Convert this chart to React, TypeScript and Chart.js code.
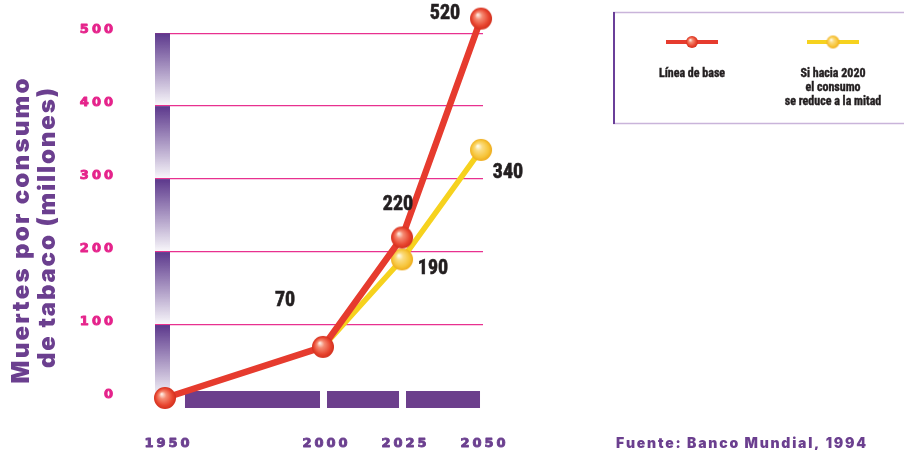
import React, { useEffect, useRef } from 'react';
import { Chart, registerables } from 'chart.js';

Chart.register(...registerables);

// ---------- data ----------
const years = [1950, 2000, 2025, 2050];
const baselineValues = [0, 70, 220, 520];
const halfYears = [2000, 2025, 2050];
const halfValues = [70, 190, 340];
const yTickValues = [0, 100, 200, 300, 400, 500];
const seriesNames = ['Línea de base', 'Si hacia 2020 el consumo se reduce a la mitad'];
const legendTexts = [['Línea de base'], ['Si hacia 2020', 'el consumo', 'se reduce a la mitad']];
const yTitleLines = ['Muertes por consumo', 'de tabaco (millones)'];
const sourceText = 'Fuente: Banco Mundial, 1994';

// ---------- styles ----------
const RED = '#e63b2e';
const YELLOW = '#f6d21e';
const PURPLE = '#6b3f8f';
const PINK = '#e8318f';
const TICK_PINK = '#e5238b';
const CONDENSED = "'Roboto Condensed', 'DejaVu Sans Condensed', sans-serif";
const WIDE = "'DejaVu Sans', sans-serif";
const HEAVY = "Inter, 'Liberation Sans', sans-serif";
const baseLabelOffsets: (number[] | null)[] = [null, [-38, -46], [-4, -32], [-36, -5]];
const halfLabelOffsets: (number[] | null)[] = [null, [31, 10], [27, 23]];

function sphere(r: number, stops: [number, string][]) {
  const c = document.createElement('canvas');
  const s = Math.ceil(r * 2 + 2);
  c.width = s;
  c.height = s;
  const g = c.getContext('2d')!;
  const cx = s / 2;
  const grad = g.createRadialGradient(cx - r * 0.3, cx - r * 0.35, r * 0.05, cx, cx, r);
  stops.forEach(([o, col]) => grad.addColorStop(o, col));
  g.fillStyle = grad;
  g.beginPath();
  g.arc(cx, cx, r, 0, Math.PI * 2);
  g.fill();
  return c;
}
const redStops: [number, string][] = [[0, '#fde8de'], [0.3, '#f58a72'], [0.75, '#e8452f'], [1, '#d2301e']];
const yellowStops: [number, string][] = [[0, '#fffbe8'], [0.3, '#fbdc80'], [0.75, '#f7c53a'], [1, '#eeab1c']];

// draws text char by char; spacing fixed, or fitted to a target length when fit > 0
function drawSpaced(
  ctx: CanvasRenderingContext2D, text: string, x: number, y: number,
  spacing: number, align: 'left' | 'center' | 'right', stroke = 0, fit = 0,
) {
  const chars = Array.from(text);
  const widths = chars.map((c) => ctx.measureText(c).width);
  const sum = widths.reduce((a, b) => a + b, 0);
  const sp = fit > 0 ? (fit - sum) / (chars.length - 1) : spacing;
  const total = sum + sp * (chars.length - 1);
  let cx = align === 'left' ? x : align === 'center' ? x - total / 2 : x - total;
  ctx.textAlign = 'left';
  if (stroke > 0) {
    ctx.lineWidth = stroke;
    ctx.lineJoin = 'round';
    ctx.strokeStyle = ctx.fillStyle as string;
  }
  chars.forEach((c, i) => {
    ctx.fillText(c, cx, y);
    if (stroke > 0) ctx.strokeText(c, cx, y);
    cx += widths[i] + sp;
  });
}

export default function App() {
  const ref = useRef<HTMLCanvasElement>(null);
  useEffect(() => {
    document.body.style.margin = '0';
    const canvas = ref.current!;
    const redBall = sphere(11, redStops);
    const yellowBall = sphere(11, yellowStops);
    const redSmall = sphere(6, redStops);
    const yellowSmall = sphere(6.5, yellowStops);

    const decor = {
      id: 'decor',
      beforeDatasetsDraw(chart: any) {
        const ctx: CanvasRenderingContext2D = chart.ctx;
        const { chartArea } = chart;
        const ys = chart.scales.y;
        const xs = chart.scales.x;
        ctx.save();
        for (let i = 0; i < yTickValues.length - 1; i++) {
          const top = ys.getPixelForValue(yTickValues[i + 1]);
          const bot = ys.getPixelForValue(yTickValues[i]);
          const g = ctx.createLinearGradient(0, top, 0, bot);
          g.addColorStop(0, 'rgba(92,56,140,1)');
          g.addColorStop(1, 'rgba(92,56,140,0.03)');
          ctx.fillStyle = g;
          ctx.fillRect(chartArea.left, top, 15, bot - top - 1);
        }
        const y0 = ys.getPixelForValue(0);
        ctx.fillStyle = '#6c3f8c';
        for (let i = 0; i < years.length - 1; i++) {
          const a = xs.getPixelForValue(years[i]) + (i === 0 ? 20 : 4);
          const b = xs.getPixelForValue(years[i + 1]) - (i === years.length - 2 ? 1 : 3);
          ctx.fillRect(a, y0 - 7, b - a, 17);
        }
        ctx.font = `bold 13px ${WIDE}`;
        ctx.textBaseline = 'alphabetic';
        ctx.fillStyle = TICK_PINK;
        ys.ticks.forEach((t: any) => {
          drawSpaced(ctx, String(t.value), 113, ys.getPixelForValue(t.value), 3, 'right', 0.9);
        });
        ctx.fillStyle = PURPLE;
        xs.ticks.forEach((t: any) => {
          drawSpaced(ctx, String(t.value), xs.getPixelForValue(t.value) + 2, 447, 3, 'center', 0.9);
        });
        ctx.restore();
      },
      afterDatasetsDraw(chart: any) {
        const ctx: CanvasRenderingContext2D = chart.ctx;
        ctx.save();
        ctx.font = `bold 20px ${CONDENSED}`;
        ctx.fillStyle = '#231f20';
        ctx.strokeStyle = '#231f20';
        ctx.lineWidth = 0.6;
        ctx.textAlign = 'center';
        ctx.textBaseline = 'middle';
        const sets = [
          { meta: chart.getDatasetMeta(0), vals: baselineValues, offs: baseLabelOffsets },
          { meta: chart.getDatasetMeta(1), vals: halfValues, offs: halfLabelOffsets },
        ];
        sets.forEach(({ meta, vals, offs }) => {
          meta.data.forEach((pt: any, i: number) => {
            const o = offs[i];
            if (!o) return;
            ctx.fillText(String(vals[i]), pt.x + o[0], pt.y + o[1]);
            ctx.strokeText(String(vals[i]), pt.x + o[0], pt.y + o[1]);
          });
        });
        ctx.restore();
      },
      afterDraw(chart: any) {
        const ctx: CanvasRenderingContext2D = chart.ctx;
        ctx.save();
        ctx.fillStyle = PURPLE;
        ctx.font = `900 24px ${HEAVY}`;
        ctx.textBaseline = 'alphabetic';
        const titlePos = [[29, 231], [55, 228]];
        const titleLen = [305, 280];
        yTitleLines.forEach((t, i) => {
          ctx.save();
          ctx.translate(titlePos[i][0], titlePos[i][1]);
          ctx.rotate(-Math.PI / 2);
          drawSpaced(ctx, t, 0, 0, 0, 'center', 0, titleLen[i]);
          ctx.restore();
        });
        ctx.font = `900 14px ${HEAVY}`;
        ctx.textBaseline = 'alphabetic';
        ctx.fillStyle = PURPLE;
        drawSpaced(ctx, sourceText, 616, 448, 0, 'left', 0, 250);
        ctx.strokeStyle = '#c9b4da';
        ctx.lineWidth = 1.5;
        ctx.beginPath();
        ctx.moveTo(613, 12.5);
        ctx.lineTo(904, 12.5);
        ctx.moveTo(613, 123.5);
        ctx.lineTo(904, 123.5);
        ctx.stroke();
        ctx.strokeStyle = '#6a3f99';
        ctx.lineWidth = 2;
        ctx.beginPath();
        ctx.moveTo(614, 12);
        ctx.lineTo(614, 124);
        ctx.stroke();
        const items = [
          { cx: 692, color: RED, ball: redSmall },
          { cx: 833, color: YELLOW, ball: yellowSmall },
        ];
        ctx.font = `bold 12px ${CONDENSED}`;
        items.forEach((it, k) => {
          ctx.strokeStyle = it.color;
          ctx.lineWidth = 4;
          ctx.beginPath();
          ctx.moveTo(it.cx - 26, 42);
          ctx.lineTo(it.cx + 26, 42);
          ctx.stroke();
          ctx.drawImage(it.ball, it.cx - it.ball.width / 2, 42 - it.ball.height / 2);
          ctx.textAlign = 'center';
          ctx.fillStyle = '#231f20';
          ctx.strokeStyle = '#231f20';
          ctx.lineWidth = 0.4;
          legendTexts[k].forEach((line, j) => {
            ctx.fillText(line, it.cx, 77 + j * 14);
            ctx.strokeText(line, it.cx, 77 + j * 14);
          });
        });
        ctx.restore();
      },
    };

    const chart = new Chart(canvas, {
      type: 'line',
      data: {
        datasets: [
          {
            label: seriesNames[0],
            data: years.map((x, i) => ({ x, y: baselineValues[i] })),
            borderColor: RED,
            backgroundColor: RED,
            borderWidth: 6.5,
            pointStyle: redBall as any,
            pointRadius: 11,
            clip: false as any,
          },
          {
            label: seriesNames[1],
            data: halfYears.map((x, i) => ({ x, y: halfValues[i] })),
            borderColor: YELLOW,
            backgroundColor: YELLOW,
            borderWidth: 5.5,
            pointStyle: yellowBall as any,
            pointRadius: [0, 11, 11],
            clip: false as any,
          },
        ],
      },
      options: {
        responsive: false,
        animation: false,
        layout: { autoPadding: false, padding: { left: 0, right: 421, top: 4, bottom: 0 } },
        plugins: { legend: { display: false }, tooltip: { enabled: false } },
        scales: {
          x: {
            type: 'linear',
            min: 1946.84,
            max: 2050.63,
            afterBuildTicks: (s: any) => {
              s.ticks = years.map((v) => ({ value: v }));
            },
            afterFit: (s: any) => {
              s.height = 52;
              s.paddingLeft = 0;
              s.paddingRight = 0;
            },
            grid: { display: false },
            border: { display: false },
            ticks: { display: false },
          },
          y: {
            min: 0,
            max: 540,
            afterBuildTicks: (s: any) => {
              s.ticks = yTickValues.map((v) => ({ value: v }));
            },
            afterFit: (s: any) => {
              s.width = 155;
              s.paddingTop = 0;
              s.paddingBottom = 0;
            },
            grid: {
              color: (c: any) => (c.tick && c.tick.value > 0 ? PINK : 'rgba(0,0,0,0)'),
              lineWidth: 1.3,
              drawTicks: false,
            },
            border: { display: false },
            ticks: { display: false },
          },
        },
      },
      plugins: [decor],
    });
    return () => chart.destroy();
  }, []);
  return (
    <div style={{ width: 904, height: 450 }}>
      <canvas ref={ref} width={904} height={450} />
    </div>
  );
}
